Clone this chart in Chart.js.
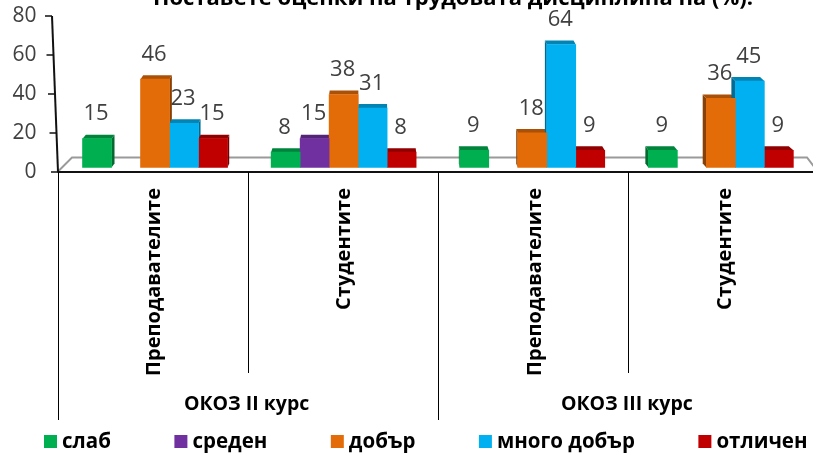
<!DOCTYPE html>
<html><head><meta charset="utf-8">
<script src="https://cdn.jsdelivr.net/npm/chart.js@4"></script>
<style>html,body{margin:0;padding:0;background:#fff;overflow:hidden;width:813px;height:454px}canvas{display:block}</style>
</head><body><canvas id="c" width="818" height="454"></canvas>
<script>
const titleText = "Поставете оценки на трудовата дисциплина на (%):";
const categories = ["Преподавателите","Студентите","Преподавателите","Студентите"];
const groupLabels = ["ОКОЗ II курс","ОКОЗ III курс"];
const yTicks = [0,20,40,60,80];
const slab   = [15,8,9,9];
const sreden = [null,15,null,null];
const dobar  = [46,38,18,36];
const mnogo  = [23,31,64,45];
const otlichen = [15,8,9,9];
const seriesNames = ["слаб","среден","добър","много добър","отличен"];
const seriesValues = [slab,sreden,dobar,mnogo,otlichen];
const frontColors = ["#00B050","#7030A0","#E36C09","#00B0F0","#C00000"];
const topColors = ["#00843C","#542478","#AA5107","#0084B4","#900000"];
const sideColors = ["#006A30","#431D60","#884105","#006A90","#730000"];
const FAMILY = "'Open Sans', sans-serif";
const CX = 380, KX = 0.0112, DEPTH = 4;

const deco = {
  id:'deco',
  beforeDatasetsDraw(chart){
    const ctx = chart.ctx, a = chart.chartArea;
    ctx.save();
    ctx.strokeStyle = '#9a9a9a'; ctx.lineWidth = 2;
    ctx.beginPath();
    ctx.moveTo(a.left, a.bottom); ctx.lineTo(72, a.bottom-14.5); ctx.lineTo(807, a.bottom-14.5); ctx.lineTo(a.right, a.bottom);
    ctx.stroke();
    chart.data.datasets.forEach((ds,d)=>{
      chart.getDatasetMeta(d).data.forEach((el,i)=>{
        if (seriesValues[d][i]==null) return;
        const l = el.x-el.width/2, r = el.x+el.width/2, t = el.y, b = el.base;
        const dl = (CX-l)*KX, dr = (CX-r)*KX;
        ctx.fillStyle = sideColors[d];
        ctx.beginPath();
        if (dr>0){ ctx.moveTo(r,t); ctx.lineTo(r+dr,t-DEPTH); ctx.lineTo(r+dr,b-DEPTH); ctx.lineTo(r,b); }
        else { ctx.moveTo(l,t); ctx.lineTo(l+dl,t-DEPTH); ctx.lineTo(l+dl,b-DEPTH); ctx.lineTo(l,b); }
        ctx.closePath(); ctx.fill();
        ctx.fillStyle = topColors[d];
        ctx.beginPath();
        ctx.moveTo(l,t); ctx.lineTo(l+dl,t-DEPTH); ctx.lineTo(r+dr,t-DEPTH); ctx.lineTo(r,t);
        ctx.closePath(); ctx.fill();
      });
    });
    ctx.restore();
  },
  afterDatasetsDraw(chart){
    const ctx = chart.ctx, a = chart.chartArea, xs = chart.scales.x, ys = chart.scales.y;
    ctx.save();
    // value labels
    ctx.font = "22px "+FAMILY; ctx.fillStyle='#404040'; ctx.textAlign='center'; ctx.textBaseline='middle';
    chart.data.datasets.forEach((ds,d)=>{
      chart.getDatasetMeta(d).data.forEach((el,i)=>{
        const v = seriesValues[d][i];
        if (v==null) return;
        ctx.fillText(String(v), el.x-1, el.y-24.5);
      });
    });
    // front floor edge and slanted value axis
    ctx.strokeStyle='#111'; ctx.lineWidth=2;
    ctx.beginPath(); ctx.moveTo(a.left,a.bottom); ctx.lineTo(a.right,a.bottom); ctx.stroke();
    const y0=ys.getPixelForValue(0), y80=ys.getPixelForValue(80);
    const axisX = y => 52+(y-y80)/(y0-y80)*6;
    ctx.beginPath(); ctx.moveTo(axisX(y80),y80); ctx.lineTo(axisX(y0),y0); ctx.stroke();
    ctx.lineWidth=1.5;
    yTicks.forEach(v=>{const y=ys.getPixelForValue(v); ctx.beginPath(); ctx.moveTo(axisX(y)-7,y); ctx.lineTo(axisX(y),y); ctx.stroke();});
    // multi-level category separators
    ctx.strokeStyle='#000'; ctx.lineWidth=1;
    const step=(a.right-a.left)/categories.length;
    categories.forEach((c,i)=>{
      const x=Math.round(a.left+step*i)+0.5;
      ctx.beginPath(); ctx.moveTo(x,a.bottom); ctx.lineTo(x, i%2===0?420:373); ctx.stroke();
    });
    // group labels
    ctx.font="bold 19.5px "+FAMILY; ctx.fillStyle='#000'; ctx.textBaseline='middle'; ctx.textAlign='center';
    groupLabels.forEach((g,i)=>{ ctx.fillText(g,(xs.getPixelForTick(i*2)+xs.getPixelForTick(i*2+1))/2-1, 404); });
    // legend
    ctx.font="bold 20.5px "+FAMILY; ctx.textAlign='left';
    let lx=44;
    seriesNames.forEach((n,d)=>{
      ctx.fillStyle=frontColors[d]; ctx.fillRect(lx,435,13,13);
      ctx.fillStyle='#000'; ctx.fillText(n,lx+18,442);
      lx+=18+ctx.measureText(n).width+63.5;
    });
    // title (cropped by the top edge)
    ctx.font="bold 22px "+FAMILY; ctx.textAlign='center'; ctx.textBaseline='alphabetic';
    ctx.fillText(titleText,453,5);
    ctx.restore();
  }
};

new Chart(document.getElementById('c'),{
  type:'bar',
  data:{
    labels:categories,
    datasets:seriesNames.map((n,d)=>({
      label:n,
      data:seriesValues[d].map((v,i)=>({x:i,y:v})),
      backgroundColor:frontColors[d],
      borderWidth:0,
      xAxisID:'xBars', yAxisID:'yBars',
      barThickness:29
    }))
  },
  plugins:[deco],
  options:{
    responsive:false, animation:false, devicePixelRatio:1,
    layout:{padding:{top:16,left:0,right:0,bottom:0}},
    plugins:{ tooltip:{enabled:false}, legend:{display:false} },
    scales:{
      x:{type:'category',offset:true,position:'bottom',grid:{display:false},border:{display:false},
         afterFit(s){ s.height = 454-172; },
         ticks:{autoSkip:false,minRotation:90,maxRotation:90,padding:8,labelOffset:2,color:'#000',font:{family:FAMILY,size:20,weight:'bold'}}},
      xBars:{type:'linear',display:false,offset:false,min:-0.517,max:3.515,grid:{display:false}},
      y:{type:'linear',position:'left',min:0,max:80,grid:{display:false,drawTicks:false},border:{display:false},
         afterFit(s){ s.width=57.5; s.paddingTop=0; s.paddingBottom=0; },
         ticks:{stepSize:20,padding:21,color:'#404040',font:{family:FAMILY,size:21}}},
      yBars:{type:'linear',display:false,min:-2.34,max:78.9,grid:{display:false}}
    }
  }
});
</script></body></html>
